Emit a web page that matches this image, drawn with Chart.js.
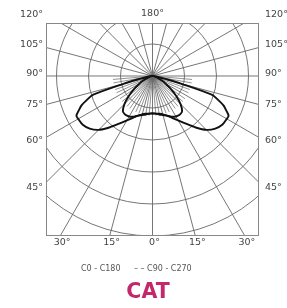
<!DOCTYPE html>
<html>
<head>
<meta charset="utf-8">
<script src="https://cdn.jsdelivr.net/npm/chart.js@4.4.1/dist/chart.umd.min.js"></script>
<style>
html, body { margin: 0; padding: 0; background: #fff; }
#wrap { position: relative; width: 287px; height: 308px; overflow: hidden; }
canvas { position: absolute; left: 0; top: 0; }
.leg { position: absolute; font: 8px "DejaVu Sans"; color: #555; line-height: 1; white-space: nowrap; }
#cat { position: absolute; left: 98px; width: 100px; top: 281px; text-align: center;
       font: bold 20.5px "DejaVu Sans"; line-height: 1; color: #c2286b; }
</style>
</head>
<body>
<div id="wrap">
  <canvas id="polar" width="287" height="308"></canvas>
  <div class="leg" style="left:81px;top:265px">C0 - C180</div>
  <div class="leg" style="left:134px;top:265px">– – C90 - C270</div>
  <div id="cat">CAT</div>
</div>
<script>
// angle from nadir (0° = straight down), degrees
const angles = [0, 5, 10, 15, 20, 25, 30, 35, 40, 45, 50, 55, 60, 62.5, 65, 67.5, 70, 72.5, 75, 77.5, 80, 85, 90];
// intensities (one ring = 50)
const c0c180 = [58, 59, 60, 62, 66, 72, 80, 91, 105, 119, 128, 133, 134, 134, 127, 120, 109, 97, 47, 19, 9, 3, 0];
const c90c270 = [59, 59, 61, 63, 66, 70, 73, 74, 72, 62, 48, 34, 23, 19, 14, 11, 8, 6, 5, 3, 3, 2, 0];

// grid
const ringStep = 50;
const ringCount = 6;
const fineLineLength = 62;
const sideAngles = [45, 60, 75, 90, 105, 120];
const sideNudge = [5, 3, 0, -2, -3, 0];
const bottomAngles = [-30, -15, 0, 15, 30];

function toXY(deg, r) {
  const t = deg * Math.PI / 180;
  return { x: r * Math.sin(t), y: -r * Math.cos(t) };
}

// left half (C180 / C270) then right half (C0 / C90)
function courbe(vals) {
  const pts = [];
  for (let i = angles.length - 1; i >= 0; i--) pts.push(toXY(-angles[i], vals[i]));
  for (let i = 1; i < angles.length; i++) pts.push(toXY(angles[i], vals[i]));
  return pts;
}

const grille = {
  id: 'grille',
  beforeDatasetsDraw(chart) {
    const { ctx, chartArea: a, scales: { x, y } } = chart;
    const cx = x.getPixelForValue(0), cy = y.getPixelForValue(0);
    const k = x.getPixelForValue(1) - cx;
    ctx.save();
    ctx.beginPath();
    ctx.rect(a.left, a.top, a.right - a.left, a.bottom - a.top);
    ctx.clip();
    ctx.strokeStyle = '#666';
    ctx.lineWidth = 0.9;
    for (let i = 1; i <= ringCount; i++) {
      ctx.beginPath();
      ctx.arc(cx, cy, i * ringStep * k, 0, 2 * Math.PI);
      ctx.stroke();
    }
    // rayons tous les 15°
    for (let d = 0; d < 360; d += 15) {
      const p = toXY(d, ringStep * ringCount * 1.2);
      ctx.beginPath();
      ctx.moveTo(cx, cy);
      ctx.lineTo(x.getPixelForValue(p.x), y.getPixelForValue(p.y));
      ctx.stroke();
    }
    // rayons fins tous les 5° dans la moitié basse
    ctx.lineWidth = 0.7;
    for (let d = -85; d <= 85; d += 5) {
      if (d % 15 === 0) continue;
      const p = toXY(d, fineLineLength);
      ctx.beginPath();
      ctx.moveTo(cx, cy);
      ctx.lineTo(x.getPixelForValue(p.x), y.getPixelForValue(p.y));
      ctx.stroke();
    }
    ctx.restore();
    ctx.save();
    ctx.strokeStyle = '#888';
    ctx.lineWidth = 1;
    ctx.strokeRect(a.left + 0.5, a.top + 0.5, a.right - a.left - 1, a.bottom - a.top - 1);
    ctx.restore();
  },
  afterDraw(chart) {
    const { ctx, chartArea: a, scales: { x, y } } = chart;
    ctx.save();
    ctx.font = '9.5px "DejaVu Sans"';
    ctx.fillStyle = '#444';
    ctx.textBaseline = 'middle';
    sideAngles.forEach((d, i) => {
      const t = d * Math.PI / 180;
      const yv = -Math.cos(t) * (x.max / Math.sin(t));
      const py = y.getPixelForValue(yv) + sideNudge[i];
      ctx.textAlign = 'right';
      ctx.fillText(d + '°', a.left - 3, py);
      ctx.textAlign = 'left';
      ctx.fillText(d + '°', a.right + 6, py);
    });
    ctx.textAlign = 'center';
    bottomAngles.forEach(d => {
      const xv = -y.min * Math.tan(d * Math.PI / 180);
      ctx.fillText(Math.abs(d) + '°', x.getPixelForValue(xv) + 2, a.bottom + 7);
    });
    ctx.fillText('180°', x.getPixelForValue(0), a.top - 9);
    ctx.restore();
  }
};

new Chart(document.getElementById('polar'), {
  type: 'scatter',
  data: {
    datasets: [
      { label: 'C0 - C180', data: courbe(c0c180), showLine: true, borderColor: '#111', borderWidth: 1.9, pointRadius: 0, tension: 0.3 },
      { label: 'C90 - C270', data: courbe(c90c270), showLine: true, borderColor: '#111', borderWidth: 1.9, pointRadius: 0, tension: 0.3 }
    ]
  },
  options: {
    responsive: false,
    animation: false,
    layout: { padding: { left: 46, top: 23, right: 28, bottom: 72 } },
    scales: {
      x: { type: 'linear', min: -166.4, max: 166.4, display: false },
      y: { type: 'linear', min: -250, max: 82.8, display: false }
    },
    plugins: { legend: { display: false }, tooltip: { enabled: false } }
  },
  plugins: [grille]
});
</script>
</body>
</html>
